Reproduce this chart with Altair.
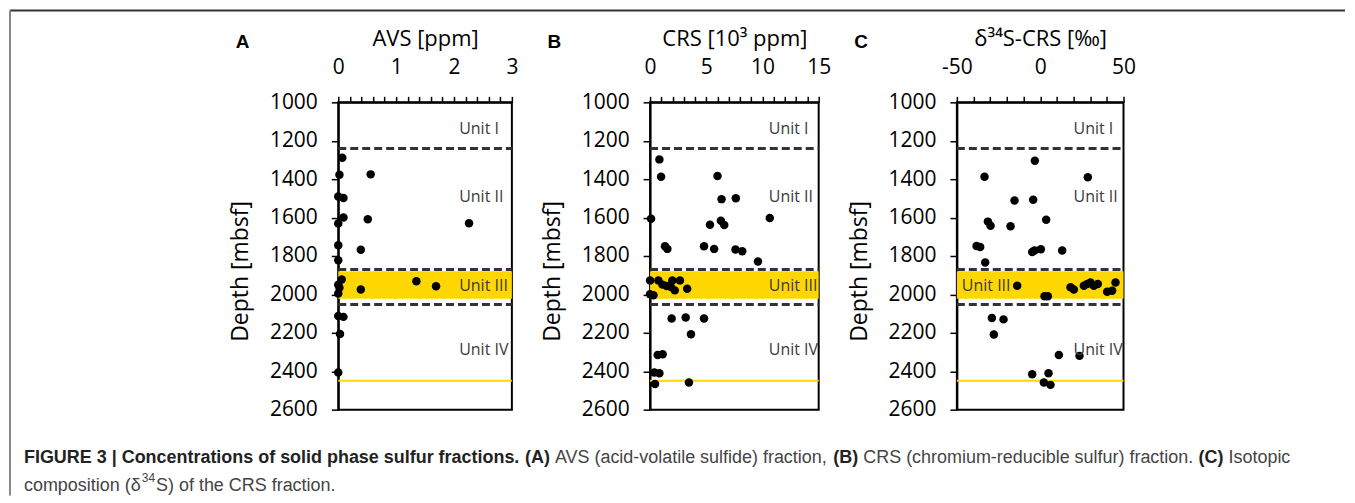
import altair as alt
import pandas as pd

# ---------------- data ----------------
# Panel A: AVS [ppm]
avs_value = [0.07, 0.02, 0.56, 0.00, 0.09, 0.09, 0.00, 0.51, 2.26, 0.00, 0.39, 0.00,
             0.06, 0.00, 0.02, 0.00, 1.35, 1.69, 0.39, 0.00, 0.09, 0.03, 0.00]
avs_depth = [1289, 1377, 1375, 1490, 1498, 1600, 1631, 1609, 1630, 1744, 1768, 1822,
             1922, 1950, 1965, 1995, 1932, 1957, 1974, 2112, 2117, 2206, 2406]

# Panel B: CRS [10^3 ppm]
crs_value = [0.83, 0.98, 0.09, 6.0, 6.36, 7.63, 10.65, 5.33, 6.3, 6.6, 1.33, 1.54,
             4.8, 5.7, 7.6, 8.2, 9.6, 0.0, 0.74, 1.1, 1.48, 1.98, 2.2, 2.66, 3.3,
             1.86, 0.0, 0.3, 1.92, 3.17, 4.8, 3.64, 0.68, 1.12, 0.38, 0.83, 0.44, 3.46]
crs_depth = [1297, 1387, 1606, 1383, 1504, 1499, 1602, 1637, 1616, 1639, 1749, 1763,
             1749, 1763, 1766, 1775, 1829, 1927, 1927, 1949, 1956, 1927, 1979, 1927, 1970,
             1961, 1999, 2004, 2125, 2120, 2125, 2208, 2315, 2312, 2407, 2410, 2467, 2459]

# Panel C: delta34S-CRS [permil]
d34s_value = [-3.2, -33.4, 28.6, -15.4, -4.2, -31.4, -29.8, -17.8, 3.6, -38.2, -36.0,
              -4.8, -3.4, 0.4, 13.2, -33.0, -13.8, 2.6, 4.6, 18.2, 20.2, 26.2, 28.2,
              30.2, 32.2, 34.6, 40.2, 43.2, 45.2, -29.0, -22.0, -27.8, 11.2, 23.6,
              -4.8, 5.0, 2.2, 6.2]
d34s_depth = [1304, 1387, 1390, 1511, 1507, 1621, 1642, 1645, 1611, 1748, 1753,
              1779, 1771, 1765, 1771, 1834, 1955, 2010, 2010, 1963, 1974, 1955, 1946,
              1938, 1955, 1946, 1986, 1981, 1938, 2123, 2130, 2209, 2316, 2320,
              2416, 2410, 2459, 2471]

# Lithological units
dashed_depths = [1240, 1870, 2052]
band_top = [1880]
band_bottom = [2022]
yellow_line_depth = [2450]
unit_names = ["Unit I", "Unit II", "Unit III", "Unit IV"]
unit_depths = [1140, 1495, 1955, 2290]

# tick values
depth_ticks = [1000, 1200, 1400, 1600, 1800, 2000, 2200, 2400, 2600]
avs_ticks = [0, 0.2, 0.4, 0.6, 0.8, 1, 1.2, 1.4, 1.6, 1.8, 2, 2.2, 2.4, 2.6, 2.8, 3]
avs_labels = [0, 1, 2, 3]
crs_ticks = [0, 1, 2, 3, 4, 5, 6, 7, 8, 9, 10, 11, 12, 13, 14, 15]
crs_labels = [0, 5, 10, 15]
d34s_ticks = [-50, -40, -30, -20, -10, 0, 10, 20, 30, 40, 50]
d34s_labels = [-50, 0, 50]

# caption (rich text segments: text, bold?), separated by single spaces
caption_line1 = [
    ("FIGURE 3 | Concentrations of solid phase sulfur fractions.", True),
    ("(A)", True),
    ("AVS (acid-volatile sulfide) fraction,", False),
    ("(B)", True),
    ("CRS (chromium-reducible sulfur) fraction.", False),
    ("(C)", True),
    ("Isotopic", False),
]
caption_line2_a = "composition (\u03b4"
caption_line2_sup = "34"
caption_line2_b = "S) of the CRS fraction."

# ---------------- style ----------------
FONT = "Open Sans"
CAP_FONT = "Liberation Sans"
CAP_SIZE = 18
YELLOW = "#FFD700"
H = 308
DEPTH_SCALE = alt.Scale(domain=[1000, 2600], reverse=True, nice=False, zero=False)

# Arial/Liberation Sans advance widths (1/1000 em) for layout of rich caption text
_REG = {' ': 278, '(': 333, ')': 333, ',': 278, '-': 333, '.': 278, '|': 260,
        'A': 667, 'B': 667, 'C': 722, 'I': 278, 'R': 722, 'S': 667, 'V': 667,
        'a': 556, 'b': 556, 'c': 500, 'd': 556, 'e': 556, 'f': 278, 'h': 556,
        'i': 222, 'l': 222, 'm': 833, 'n': 556, 'o': 556, 'p': 556, 'r': 333,
        's': 500, 't': 278, 'u': 556, 'v': 500, '\u03b4': 556}
_BOLD = {' ': 278, '(': 333, ')': 333, '.': 278, '|': 280, '3': 556,
         'A': 722, 'B': 722, 'C': 722, 'E': 667, 'F': 611, 'G': 778, 'I': 278,
         'R': 722, 'U': 722, 'a': 556, 'c': 556, 'd': 611, 'e': 556, 'f': 333,
         'h': 611, 'i': 278, 'l': 278, 'n': 611, 'o': 611, 'p': 611, 'r': 389,
         's': 556, 't': 333, 'u': 611}


def text_width(s, bold, size):
    table = _BOLD if bold else _REG
    return sum(table.get(ch, 556) for ch in s) * size / 1000.0


def dummy():
    return alt.Data(values=[{"k": 1}])


def text_at(txt, x, y, size, weight="normal", color="black", font=CAP_FONT,
            align="left", baseline="alphabetic"):
    return alt.Chart(dummy()).mark_text(
        text=txt, fontSize=size, fontWeight=weight, color=color, font=font,
        align=align, baseline=baseline
    ).encode(x=alt.value(x), y=alt.value(y))


def panel(vals, depths, domain, ticks, labels, title, width, letter,
          unit_x, first=False):
    xs = alt.Scale(domain=domain, nice=False, zero=False)
    label_list = "[" + ",".join(str(v) for v in labels) + "]"
    xaxis = alt.Axis(
        orient="top", values=ticks, title=title,
        labelExpr=f"indexof({label_list}, datum.value) >= 0 ? '' + datum.value : ''",
        tickSize=6, tickWidth=1.5, tickColor="black", labelPadding=19,
        labelFontSize=21, titleFontSize=22, titlePadding=6, grid=False,
        domainColor="black", domainWidth=2, labelOverlap=False, labelFlush=False,
    )
    yaxis = alt.Axis(
        values=depth_ticks, format="d", title="Depth [mbsf]", tickSize=7, tickWidth=1.5,
        tickColor="black", labelPadding=14, labelFontSize=21, titleFontSize=23,
        grid=False, domainColor="black", domainWidth=2,
        titleX=-98, titleY=169, titleBaseline="middle", titleAlign="center",
        titleAngle=-90,
    )

    def X(field):
        return alt.X(field, type="quantitative", scale=xs, axis=xaxis)

    def Y(field):
        return alt.Y(field, type="quantitative", scale=DEPTH_SCALE, axis=yaxis)

    band = alt.Chart(pd.DataFrame({"depth": band_top, "depth2": band_bottom})).mark_rect(
        color=YELLOW
    ).encode(y=Y("depth"), y2="depth2:Q", x=alt.value(0), x2=alt.value(width))

    dashes = alt.Chart(pd.DataFrame({"depth": dashed_depths})).mark_rule(
        color="#333333", strokeWidth=3, strokeDash=[8, 4]
    ).encode(y=Y("depth"), x=alt.value(0), x2=alt.value(width))

    yline = alt.Chart(pd.DataFrame({"depth": yellow_line_depth})).mark_rule(
        color=YELLOW, strokeWidth=2
    ).encode(y=Y("depth"), x=alt.value(0), x2=alt.value(width))

    pts = alt.Chart(pd.DataFrame({"v": vals, "depth": depths})).mark_circle(
        size=72, color="black", opacity=1
    ).encode(x=X("v"), y=Y("depth"))

    units = alt.Chart(pd.DataFrame({"ux": unit_x, "depth": unit_depths, "name": unit_names})).mark_text(
        align="left", baseline="middle", fontSize=16, color="#3a3a3a", font=FONT
    ).encode(x=X("ux"), y=Y("depth"), text="name:N")

    letter_mark = text_at(letter, -96, -60, 19, weight="bold", font=CAP_FONT,
                          align="center", baseline="middle")

    layers = [band, dashes, yline, pts, units, letter_mark]

    if first:
        # figure frame and caption (positions relative to panel A plot origin)
        frame_top = alt.Chart(dummy()).mark_rule(color="#333333", strokeWidth=2).encode(
            x=alt.value(-329), x2=alt.value(1009), y=alt.value(-92))
        frame_left = alt.Chart(dummy()).mark_rule(color="#888888", strokeWidth=2).encode(
            x=alt.value(-329), y=alt.value(-92), y2=alt.value(394))
        dark = "#222222"
        grey = "#444444"
        cap = []
        x0 = -315
        x = x0
        for seg, bold in caption_line1:
            cap.append(text_at(seg, x, 361, CAP_SIZE, "bold" if bold else "normal",
                               dark if bold else grey))
            x += text_width(seg, bold, CAP_SIZE) + text_width(" ", False, CAP_SIZE)
        x = x0
        cap.append(text_at(caption_line2_a, x, 390, CAP_SIZE, "normal", grey))
        x += text_width(caption_line2_a, False, CAP_SIZE) + 1
        cap.append(text_at(caption_line2_sup, x, 381, 12, "normal", grey))
        x += text_width(caption_line2_sup, False, 12) + 1
        cap.append(text_at(caption_line2_b, x, 390, CAP_SIZE, "normal", grey))
        layers = [frame_top, frame_left] + layers + cap

    return alt.layer(*layers).properties(width=width, height=H)


A = panel(avs_value, avs_depth, [0, 3], avs_ticks, avs_labels, "AVS [ppm]", 174, "A",
          [2.09] * 4, first=True)
B = panel(crs_value, crs_depth, [0, 15], crs_ticks, crs_labels, "CRS [10\u00b3 ppm]", 169, "B",
          [10.56] * 4)
C = panel(d34s_value, d34s_depth, [-50, 50], d34s_ticks, d34s_labels,
          "\u03b4\u00b3\u2074S-CRS [\u2030]", 167, "C", [20, 20, -47, 20])

chart = alt.HConcatChart(hconcat=[A, B, C], spacing=138.5, bounds="flush").properties(
    padding=0
).configure_axis(
    labelFont=FONT, titleFont=FONT, labelColor="black", titleColor="black",
    titleFontWeight="normal",
).configure_view(stroke="black", strokeWidth=2)

chart.save("out.html", embed_options={"renderer": "svg", "actions": False})
